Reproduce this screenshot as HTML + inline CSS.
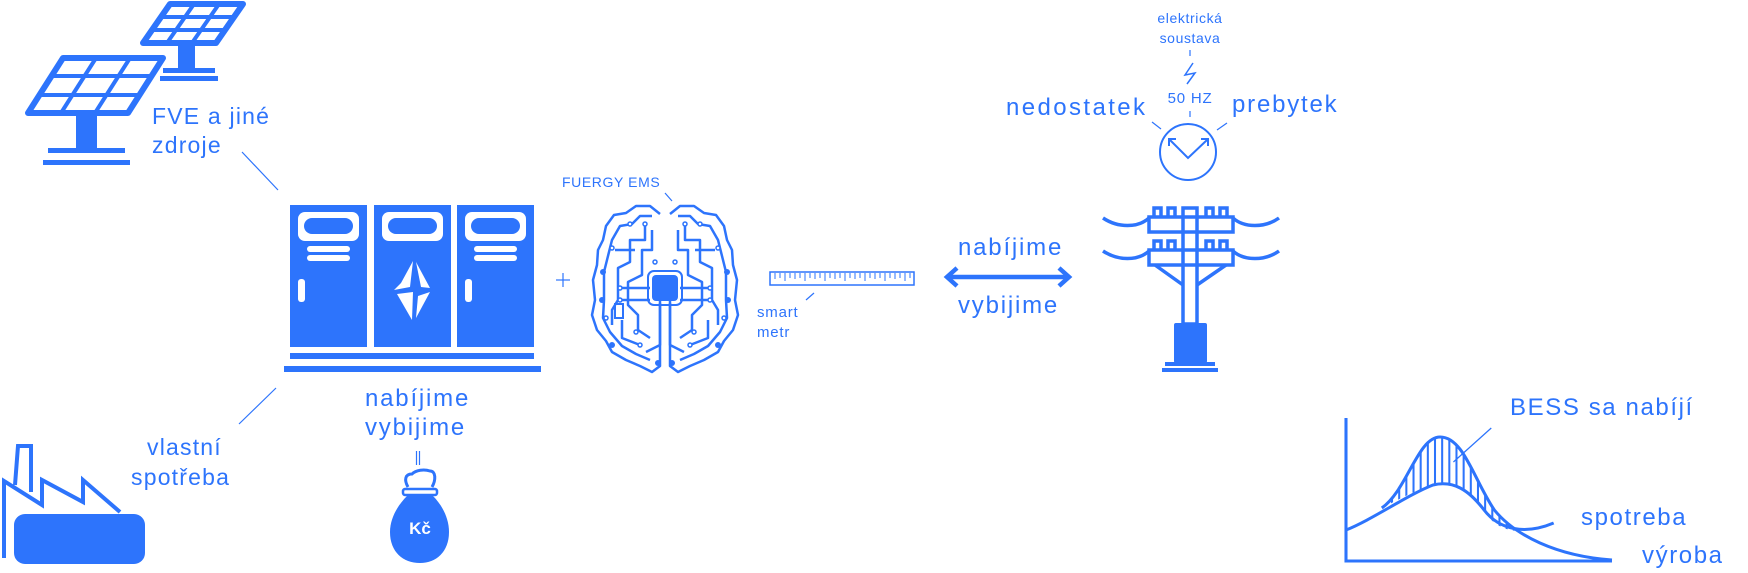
<!DOCTYPE html>
<html><head><meta charset="utf-8"><style>
html,body{margin:0;padding:0;background:#fff;}
svg{display:block;}
text{font-family:"Liberation Sans",sans-serif;fill:#2d74fc;}
</style></head><body>
<svg width="1748" height="573" viewBox="0 0 1748 573" xmlns="http://www.w3.org/2000/svg">
<defs>
<clipPath id="hatch"><path d="M1370,508 C1395,490 1405,437 1427,437 C1450,437 1460,480 1480,510 C1490,523 1497,528 1503,531 C1485,530 1475,520 1470,510 C1455,490 1440,480 1420,485 C1400,492 1385,500 1370,508 Z"/></clipPath>
</defs>
<g fill="none" stroke="#2d74fc">
<polygon points="170,4 243,4 216,43 143,43" stroke-width="6" stroke-linejoin="round"/>
<line x1="194" y1="4" x2="167" y2="43" stroke-width="4"/>
<line x1="219" y1="4" x2="192" y2="43" stroke-width="4"/>
<line x1="161" y1="17" x2="234" y2="17" stroke-width="4"/>
<line x1="152" y1="30" x2="225" y2="30" stroke-width="4"/>
<polygon points="63,58 163,58 128,113 28,113" stroke-width="6" stroke-linejoin="round"/>
<line x1="96" y1="58" x2="61" y2="113" stroke-width="4"/>
<line x1="130" y1="58" x2="95" y2="113" stroke-width="4"/>
<line x1="51" y1="76" x2="151" y2="76" stroke-width="4"/>
<line x1="40" y1="95" x2="140" y2="95" stroke-width="4"/>
</g>
<g fill="#2d74fc">
<rect x="178" y="43" width="17" height="27"/>
<rect x="163" y="68" width="52" height="5"/>
<rect x="160" y="76" width="58" height="5"/>
<rect x="76" y="113" width="21" height="36"/>
<rect x="48" y="148" width="77" height="5"/>
<rect x="43" y="160" width="87" height="5"/>
</g>
<text x="152" y="124" font-size="23" letter-spacing="1.2">FVE a jiné</text>
<text x="152" y="153" font-size="23" letter-spacing="1.2">zdroje</text>
<line x1="242" y1="152" x2="278" y2="190" stroke="#2d74fc" stroke-width="1.2"/>
<line x1="276" y1="388" x2="239" y2="424" stroke="#2d74fc" stroke-width="1.2"/>
<text x="147" y="455" font-size="23" letter-spacing="1.2">vlastní</text>
<text x="131" y="485" font-size="23" letter-spacing="1.2">spotřeba</text>
<g fill="none" stroke="#2d74fc" stroke-width="4" stroke-linejoin="miter">
<path d="M4,558 L4,481 L42,505 L42,480 L83,502 L83,480 L120,512"/>
<path d="M15,485 L18,446 L31,446 L31,492"/>
</g>
<rect x="14" y="514" width="131" height="50" rx="11" fill="#2d74fc"/>
<g fill="#2d74fc">
<rect x="290" y="205" width="77" height="142"/>
<rect x="374" y="205" width="77" height="142"/>
<rect x="457" y="205" width="77" height="142"/>
<rect x="290" y="353" width="244" height="6"/>
<rect x="284" y="366" width="257" height="6"/>
</g>
<g fill="#fff">
<rect x="298" y="212" width="61" height="29" rx="7"/>
<rect x="382" y="212" width="61" height="29" rx="7"/>
<rect x="465" y="212" width="61" height="29" rx="7"/>
<rect x="307" y="246" width="43" height="6" rx="3"/>
<rect x="307" y="255" width="43" height="6" rx="3"/>
<rect x="474" y="246" width="43" height="6" rx="3"/>
<rect x="474" y="255" width="43" height="6" rx="3"/>
<rect x="298" y="279" width="7" height="23" rx="3"/>
<rect x="465" y="279" width="7" height="23" rx="3"/>
<polygon points="413,261 401,283 394,290 410,287"/>
<polygon points="416,262 430,288 421,287"/>
<polygon points="397,294 413,292 412,320"/>
<polygon points="430,292 416,318 418,296"/>
</g>
<g fill="#2d74fc">
<rect x="304" y="218" width="49" height="16" rx="8"/>
<rect x="388" y="218" width="49" height="16" rx="8"/>
<rect x="471" y="218" width="49" height="16" rx="8"/>
</g>
<text x="365" y="406" font-size="24" letter-spacing="1.8">nabíjime</text>
<text x="365" y="435" font-size="24" letter-spacing="1.8">vybijime</text>
<line x1="416.5" y1="451" x2="416.5" y2="465" stroke="#2d74fc" stroke-width="1.2"/>
<line x1="419.5" y1="451" x2="419.5" y2="465" stroke="#2d74fc" stroke-width="1.2"/>
<path d="M408,487 C404,480 405,474 412,474 C416,470 424,469 430,471 C436,471 436,480 432,487" fill="none" stroke="#2d74fc" stroke-width="3"/>
<rect x="403" y="489" width="34" height="6" rx="2" fill="none" stroke="#2d74fc" stroke-width="2.5"/>
<path d="M407,496 L433,496 C442,505 449,518 449,532 C449,552 436,563 420,563 C403,563 390,552 390,532 C390,518 398,505 407,496 Z" fill="#2d74fc"/>
<text x="420" y="534" font-size="17" font-weight="bold" text-anchor="middle" style="fill:#fff">Kč</text>
<line x1="563" y1="273" x2="563" y2="287" stroke="#2d74fc" stroke-width="1.2"/>
<line x1="556" y1="280" x2="570" y2="280" stroke="#2d74fc" stroke-width="1.2"/>
<text x="562" y="187" font-size="14" letter-spacing="0.6">FUERGY EMS</text>
<line x1="665" y1="193" x2="672" y2="201" stroke="#2d74fc" stroke-width="1.2"/>
<g fill="none" stroke="#2d74fc" stroke-width="2.5" stroke-linejoin="round">
<path d="M660,214 L650,206 L636,206 L626,213 L614,215 L606,226 L603,240 L598,250 L597,265 L593,280 L595,300 L592,315 L597,330 L606,341 L612,352 L626,360 L640,366 L652,372 L660,366 L660,300"/>
<path d="M670,214 L680,206 L694,206 L704,213 L716,215 L724,226 L727,240 L732,250 L733,265 L737,280 L735,300 L738,315 L733,330 L724,341 L718,352 L704,360 L690,366 L678,372 L670,366 L670,300"/>
<path d="M652,216 L640,216 L632,224 L620,226 L612,240 L608,256 L604,272 L604,300 L603,318 L610,332 L622,346 L636,354 L650,360"/>
<path d="M678,216 L690,216 L698,224 L710,226 L718,240 L722,256 L726,272 L726,300 L727,318 L720,332 L708,346 L694,354 L680,360"/>
<path d="M645,225 L645,240 L630,240 L630,262 L618,268 L618,300 L612,310 L612,325"/>
<path d="M685,225 L685,240 L700,240 L700,262 L712,268 L712,300 L718,310 L718,325"/>
<path d="M652,230 L652,250 L642,250 L642,275 L628,282 L628,305 L638,315 L638,330 L650,338"/>
<path d="M678,230 L678,250 L688,250 L688,275 L702,282 L702,305 L692,315 L692,330 L680,338"/>
<path d="M620,288 L650,288 M710,288 L680,288 M620,300 L650,300 M680,300 L710,300"/>
<path d="M660,303 L660,345 L646,352 M670,303 L670,345 L684,352"/>
<path d="M615,250 L635,250 M695,250 L715,250 M622,320 L622,338 L640,345 M708,320 L708,338 L690,345"/>
</g>
<rect x="652" y="275" width="26" height="26" rx="4" fill="#2d74fc"/>
<rect x="648" y="271" width="34" height="34" rx="6" fill="none" stroke="#2d74fc" stroke-width="2"/>
<rect x="615" y="304" width="8" height="14" fill="none" stroke="#2d74fc" stroke-width="2"/>
<g fill="#fff" stroke="#2d74fc" stroke-width="1.5">
<circle cx="630" cy="224" r="2"/><circle cx="645" cy="224" r="2"/><circle cx="685" cy="224" r="2"/><circle cx="700" cy="224" r="2"/>
<circle cx="612" cy="248" r="2"/><circle cx="718" cy="248" r="2"/><circle cx="620" cy="288" r="2"/><circle cx="710" cy="288" r="2"/>
<circle cx="620" cy="300" r="2"/><circle cx="710" cy="300" r="2"/><circle cx="606" cy="318" r="2"/><circle cx="724" cy="318" r="2"/>
<circle cx="640" cy="345" r="2"/><circle cx="690" cy="345" r="2"/><circle cx="655" cy="262" r="2"/><circle cx="675" cy="262" r="2"/>
<circle cx="636" cy="332" r="2"/><circle cx="694" cy="332" r="2"/>
</g>
<g fill="#2d74fc">
<circle cx="603" cy="272" r="3"/><circle cx="727" cy="272" r="3"/><circle cx="602" cy="300" r="3"/><circle cx="728" cy="300" r="3"/>
<circle cx="612" cy="345" r="3"/><circle cx="718" cy="345" r="3"/><circle cx="658" cy="363" r="3"/><circle cx="672" cy="363" r="3"/>
</g>
<rect x="770" y="272" width="144" height="13" fill="none" stroke="#2d74fc" stroke-width="1.5"/>
<path d="M775,273 V279 M780,273 V278 M785,273 V281 M790,273 V278 M795,273 V279 M800,273 V278 M805,273 V281 M810,273 V278 M815,273 V279 M820,273 V278 M825,273 V281 M830,273 V278 M835,273 V279 M840,273 V278 M845,273 V281 M850,273 V278 M855,273 V279 M860,273 V278 M865,273 V281 M870,273 V278 M875,273 V279 M880,273 V278 M885,273 V281 M890,273 V278 M895,273 V279 M900,273 V278 M905,273 V281 M910,273 V278" stroke="#2d74fc" stroke-width="1"/>
<line x1="806" y1="300" x2="814" y2="293" stroke="#2d74fc" stroke-width="1.2"/>
<text x="757" y="317" font-size="15" letter-spacing="0.8">smart</text>
<text x="757" y="337" font-size="15" letter-spacing="0.8">metr</text>
<text x="958" y="255" font-size="24" letter-spacing="1.8">nabíjime</text>
<text x="958" y="313" font-size="24" letter-spacing="1.8">vybijime</text>
<line x1="948" y1="277" x2="1068" y2="277" stroke="#2d74fc" stroke-width="4.5"/>
<polyline points="957,268 947,277 957,286" fill="none" stroke="#2d74fc" stroke-width="4.5"/>
<polyline points="1059,268 1069,277 1059,286" fill="none" stroke="#2d74fc" stroke-width="4.5"/>
<text x="1190" y="23" font-size="14" text-anchor="middle" letter-spacing="0.6">elektrická</text>
<text x="1190" y="43" font-size="14" text-anchor="middle" letter-spacing="0.6">soustava</text>
<line x1="1190" y1="50" x2="1190" y2="56" stroke="#2d74fc" stroke-width="1.2"/>
<polyline points="1193,63 1185,75 1195,73 1187,84" fill="none" stroke="#2d74fc" stroke-width="1.5"/>
<text x="1190" y="103" font-size="15" text-anchor="middle" letter-spacing="0.8">50 HZ</text>
<line x1="1190" y1="111" x2="1190" y2="117" stroke="#2d74fc" stroke-width="1.2"/>
<text x="1006" y="115" font-size="24" letter-spacing="2.4">nedostatek</text>
<text x="1232" y="112" font-size="24" letter-spacing="1.8">prebytek</text>
<line x1="1152" y1="122" x2="1161" y2="129" stroke="#2d74fc" stroke-width="1.2"/>
<line x1="1217" y1="130" x2="1227" y2="123" stroke="#2d74fc" stroke-width="1.2"/>
<circle cx="1188" cy="152" r="28" fill="none" stroke="#2d74fc" stroke-width="2"/>
<polyline points="1170,140 1188,158 1207,140" fill="none" stroke="#2d74fc" stroke-width="2"/>
<polyline points="1169,146 1169,139 1176,139" fill="none" stroke="#2d74fc" stroke-width="2"/>
<polyline points="1201,139 1208,139 1208,146" fill="none" stroke="#2d74fc" stroke-width="2"/>
<g fill="none" stroke="#2d74fc" stroke-width="3.5">
<rect x="1183" y="208" width="14" height="116"/>
<rect x="1149" y="217" width="84" height="15"/>
<rect x="1149" y="250" width="84" height="15"/>
<path d="M1154,216 V208 H1161 V216 M1168,216 V208 H1175 V216 M1206,216 V208 H1213 V216 M1220,216 V208 H1227 V216"/>
<path d="M1154,249 V241 H1161 V249 M1168,249 V241 H1175 V249 M1206,249 V241 H1213 V249 M1220,249 V241 H1227 V249"/>
<path d="M1155,265 L1183,285 M1226,265 L1197,285"/>
<path d="M1103,218 C1118,228 1138,228 1149,218 M1233,218 C1244,228 1265,228 1279,218"/>
<path d="M1103,251 C1118,261 1138,261 1149,251 M1233,251 C1244,261 1265,261 1279,251"/>
</g>
<g fill="#2d74fc">
<rect x="1174" y="323" width="33" height="40" rx="2"/>
<rect x="1165" y="362" width="50" height="4"/>
<rect x="1162" y="368" width="56" height="4"/>
</g>
<g transform="translate(1346,0) scale(1.023,1) translate(-1335,0)">
<g clip-path="url(#hatch)" stroke="#2d74fc" stroke-width="2">
<path d="M1380,430 V540 M1387,430 V540 M1394,430 V540 M1401,430 V540 M1408,430 V540 M1415,430 V540 M1422,430 V540 M1429,430 V540 M1436,430 V540 M1443,430 V540 M1450,430 V540 M1457,430 V540 M1464,430 V540 M1471,430 V540 M1478,430 V540 M1485,430 V540 M1492,430 V540 M1499,430 V540"/>
</g>
<g fill="none" stroke="#2d74fc" stroke-width="3">
<path d="M1335,418 V561 H1595"/>
<path d="M1335,530 C1360,520 1395,495 1420,485 C1440,480 1455,490 1470,510 C1485,530 1510,535 1538,523"/>
<path d="M1370,508 C1395,490 1405,437 1427,437 C1450,437 1460,480 1480,510 C1500,535 1540,556 1595,560"/>
</g>
<line x1="1477" y1="428" x2="1440" y2="462" stroke="#2d74fc" stroke-width="1.2"/>
</g>
<text x="1510" y="415" font-size="24" letter-spacing="1.6">BESS sa nabíjí</text>
<text x="1581" y="525" font-size="24" letter-spacing="1.6">spotreba</text>
<text x="1642" y="563" font-size="24" letter-spacing="1.6">výroba</text>
</svg>
</body></html>
